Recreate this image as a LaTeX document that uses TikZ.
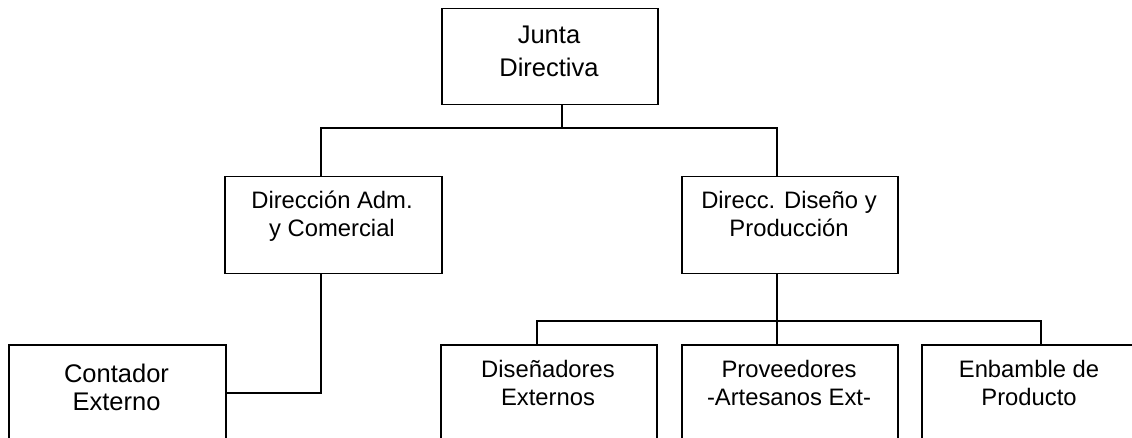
\documentclass[tikz,border=0pt]{standalone}
\usepackage{fontspec}
\setmainfont{Liberation Sans}
\begin{document}
\begin{tikzpicture}[x=1pt,y=-1pt,
  boxnode/.style={draw=black,line width=1.5pt,rectangle,inner sep=0pt,anchor=north west},
  wire/.style={draw=black,line width=1.5pt},
  bigtxt/.style={anchor=base,inner sep=0pt,font=\fontsize{25.5}{30}\selectfont},
  smalltxt/.style={anchor=base,inner sep=0pt,font=\fontsize{23.8}{28}\selectfont}]
\useasboundingbox (0,0) rectangle (1132,438);
\begin{scope}
\clip (0,0) rectangle (1132,438);
% boxes
\node[boxnode,minimum width=216pt,minimum height=96pt] (junta) at (441,8) {};
\node[boxnode,minimum width=217pt,minimum height=97pt] (adm) at (224,176) {};
\node[boxnode,minimum width=216pt,minimum height=97pt] (dis) at (681,176) {};
\node[boxnode,minimum width=217pt,minimum height=97pt] (cont) at (8,344) {};
\node[boxnode,minimum width=216pt,minimum height=97pt] (ext) at (440,344) {};
\node[boxnode,minimum width=216pt,minimum height=97pt] (prov) at (681,344) {};
\node[boxnode,minimum width=216pt,minimum height=97pt] (enb) at (921,344) {};
% texts
\node[bigtxt] (t1a) at (549,44) {Junta};
\node[bigtxt] (t1b) at (549,77) {Directiva};
\node[smalltxt] (t2a) at (332,209) {Dirección Adm.};
\node[smalltxt] (t2b) at (332,237) {y Comercial};
\node[smalltxt] (t3a) at (789,209) {Direcc. Diseño y};
\node[smalltxt] (t3b) at (789,237) {Producción};
\node[bigtxt] (t4a) at (116.5,382) {Contador};
\node[bigtxt] (t4b) at (116.5,410) {Externo};
\node[smalltxt] (t5a) at (548,377) {Diseñadores};
\node[smalltxt] (t5b) at (548,405) {Externos};
\node[smalltxt] (t6a) at (789,377) {Proveedores};
\node[smalltxt] (t6b) at (789,405) {-Artesanos Ext-};
\node[smalltxt] (t7a) at (1029,377) {Enbamble de};
\node[smalltxt] (t7b) at (1029,405) {Producto};
% connector coordinates
\coordinate (bus1) at (562,128);
\coordinate (bus2) at (777,321);
\coordinate (elbow) at (321,393);
% connectors
\draw[wire] (junta.south -| bus1) -- (bus1);
\draw[wire] (adm.north -| elbow) |- (bus1) -| (dis.north -| bus2);
\draw[wire] (adm.south -| elbow) -- (elbow) -- (elbow -| cont.east);
\draw[wire] (dis.south -| bus2) -- (bus2);
\draw[wire] (ext.north -| 537,0) |- (bus2);
\draw[wire] (bus2) -- (prov.north -| bus2);
\draw[wire] (bus2) -| (enb.north -| 1041,0);
\end{scope}
\end{tikzpicture}
\end{document}
